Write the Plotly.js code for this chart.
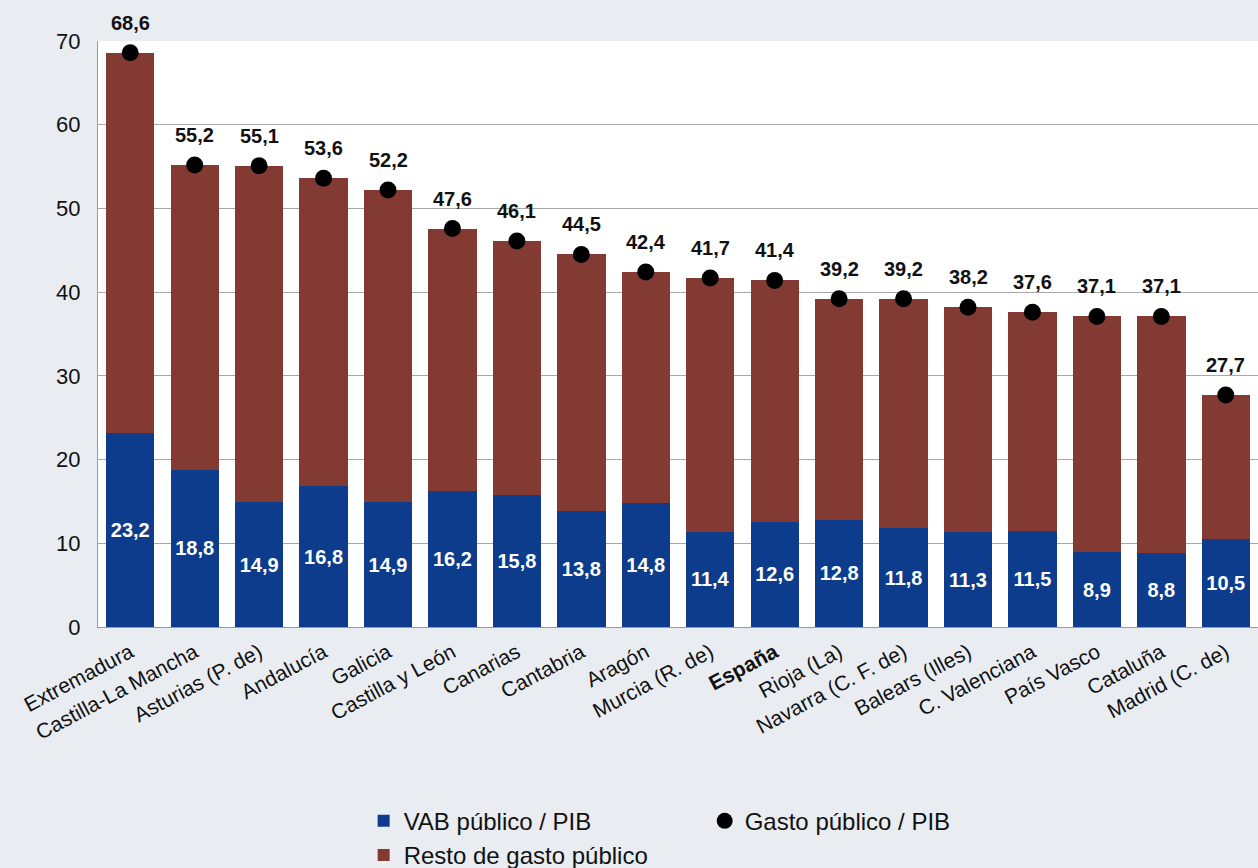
<!DOCTYPE html>
<html>
<head>
<meta charset="utf-8">
<script src="https://cdn.plot.ly/plotly-3.0.1.min.js"></script>
<style>
html,body{margin:0;padding:0;background:#e9edf2;}
#chart{width:1258px;height:868px;}
</style>
</head>
<body>
<div id="chart"></div>
<script>
const regiones = ["Extremadura","Castilla-La Mancha","Asturias (P. de)","Andalucía","Galicia","Castilla y León","Canarias","Cantabria","Aragón","Murcia (R. de)","España","Rioja (La)","Navarra (C. F. de)","Balears (Illes)","C. Valenciana","País Vasco","Cataluña","Madrid (C. de)"];
const etiquetas = ["Extremadura","Castilla-La Mancha","Asturias (P. de)","Andalucía","Galicia","Castilla y León","Canarias","Cantabria","Aragón","Murcia (R. de)","<b>España</b>","Rioja (La)","Navarra (C. F. de)","Balears (Illes)","C. Valenciana","País Vasco","Cataluña","Madrid (C. de)"];
const vabPublico = [23.2,18.8,14.9,16.8,14.9,16.2,15.8,13.8,14.8,11.4,12.6,12.8,11.8,11.3,11.5,8.9,8.8,10.5];
const restoGasto = [45.4,36.4,40.2,36.8,37.3,31.4,30.3,30.7,27.6,30.3,28.8,26.4,27.4,26.9,26.1,28.2,28.3,17.2];
const gastoPublico = [68.6,55.2,55.1,53.6,52.2,47.6,46.1,44.5,42.4,41.7,41.4,39.2,39.2,38.2,37.6,37.1,37.1,27.7];
const yTicks = [0,10,20,30,40,50,60,70];

const FONT = "Liberation Sans, Arial, sans-serif";

const traces = [
  {
    type: "bar", name: "VAB público / PIB", x: regiones, y: vabPublico,
    marker: {color: "#0c3c8b"},
    texttemplate: "<b>%{y:.1f}</b>", textposition: "inside", insidetextanchor: "middle",
    textfont: {family: FONT, size: 20, color: "#ffffff"},
    textangle: 0, legend: "legend", hoverinfo: "skip"
  },
  {
    type: "bar", name: "Resto de gasto público", x: regiones, y: restoGasto,
    marker: {color: "#833a33"}, textposition: "none", legend: "legend", hoverinfo: "skip"
  },
  {
    type: "scatter", mode: "markers", name: "Gasto público / PIB", x: regiones, y: gastoPublico,
    marker: {color: "#000000", size: 17}, cliponaxis: false, legend: "legend2", hoverinfo: "skip"
  }
];

const annotations = regiones.map((r, i) => ({
  x: r, y: gastoPublico[i], xref: "x", yref: "y",
  text: "<b>" + gastoPublico[i].toFixed(1).replace(".", ",") + "</b>",
  showarrow: false, yshift: 30,
  font: {family: FONT, size: 20, color: "#111111"}
}));

const layout = {
  width: 1258, height: 868,
  paper_bgcolor: "#e9edf2", plot_bgcolor: "#ffffff",
  margin: {l: 98, r: 0, t: 41, b: 241, autoexpand: false},
  barmode: "stack", bargap: 0.25,
  separators: ",.",
  font: {family: FONT, size: 21, color: "#111111"},
  xaxis: {
    type: "category", tickvals: regiones, ticktext: etiquetas,
    range: [-0.5, 17.5], autorange: false, automargin: false,
    tickangle: -28, ticks: "", showgrid: false,
    tickfont: {family: FONT, size: 21, color: "#111111"},
    ticklabelstandoff: 4,
    showline: true, linecolor: "#9a9a9a", linewidth: 1
  },
  yaxis: {
    range: [0, 70], autorange: false, automargin: false, tickvals: yTicks, ticktext: yTicks.map(String),
    showgrid: true, gridcolor: "#a8a8a8", gridwidth: 1.2,
    zeroline: false, showline: true, linecolor: "#9a9a9a", linewidth: 1.2,
    ticks: "", ticklabelstandoff: 12,
    tickfont: {family: FONT, size: 22, color: "#111111"}
  },
  showlegend: true,
  legend: {
    orientation: "v", x: 0.229, xanchor: "left", y: -0.293, yanchor: "top",
    bgcolor: "rgba(0,0,0,0)", font: {family: FONT, size: 24, color: "#111111"},
    traceorder: "normal"
  },
  legend2: {
    orientation: "v", x: 0.523, xanchor: "left", y: -0.293, yanchor: "top",
    bgcolor: "rgba(0,0,0,0)", font: {family: FONT, size: 24, color: "#111111"}
  },
  annotations: annotations
};

Plotly.newPlot("chart", traces, layout, {displayModeBar: false, staticPlot: true});
</script>
</body>
</html>
